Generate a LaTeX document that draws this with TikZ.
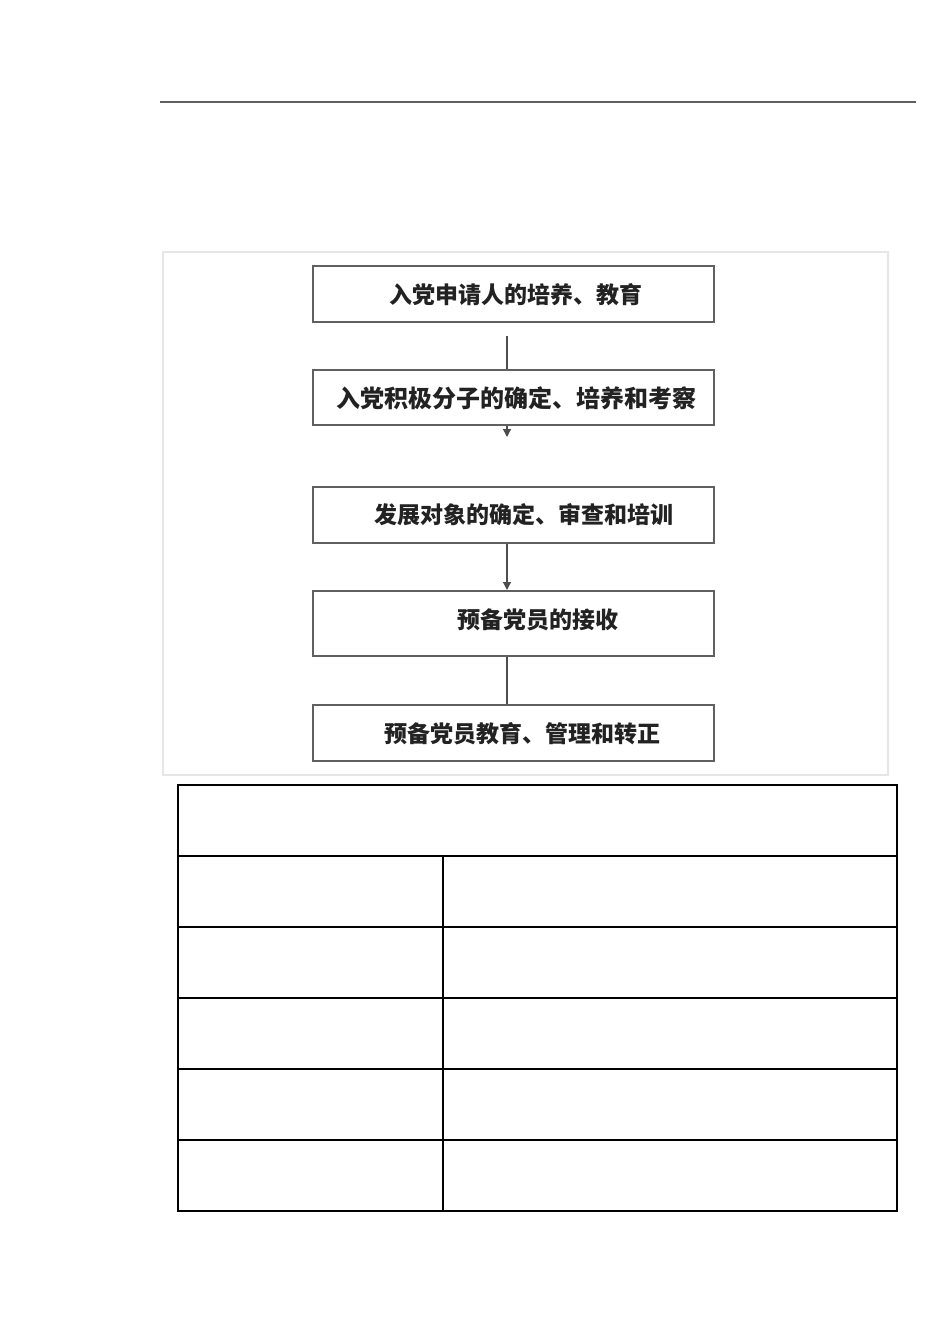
\documentclass[tikz,border=0pt]{standalone}
\usepackage{fontspec}
\newfontfamily\cjk{Noto Sans CJK SC}
\usetikzlibrary{arrows.meta}
\definecolor{boxline}{HTML}{606060}
\definecolor{frameline}{HTML}{E6E6E6}
\definecolor{txt}{HTML}{222222}
\begin{document}
\begin{tikzpicture}[x=0.5pt,y=-0.5pt,
  flowbox/.style={draw=boxline,line width=1pt,fill=white,inner sep=0pt,minimum width=200.5pt},
  flowtext/.style={inner sep=0pt,text=txt,font=\cjk\bfseries\fontsize{11.5pt}{13pt}\selectfont},
  conn/.style={draw=boxline!80!black,line width=0.6pt},
  arr/.style={conn,-{Triangle[length=4pt,width=4pt]}},
  tline/.style={draw=black,line width=1pt}]
\useasboundingbox (0,0) rectangle (950,1343);
\fill[white] (0,0) rectangle (950,1343);
% top rule
\coordinate (rl) at (160,102);
\coordinate (rr) at (916,102);
\draw[draw=boxline,line width=1pt] (rl) -- (rr);
% light frame of the pasted picture
\draw[frameline,line width=0.6pt] (163,252) rectangle (888,775);
% boxes
\node[flowbox,minimum height=28pt] (b1) at (513.5,294) {};
\node[flowbox,minimum height=27.5pt] (b2) at (513.5,397.5) {};
\node[flowbox,minimum height=28pt] (b3) at (513.5,515) {};
\node[flowbox,minimum height=32.5pt] (b4) at (513.5,623.5) {};
\node[flowbox,minimum height=28pt] (b5) at (513.5,733) {};
% texts
\node[flowtext] (t1) at (516,295) {入党申请人的培养、教育};
\node[flowtext,font=\cjk\bfseries\fontsize{12pt}{14pt}\selectfont] (t2) at (516,398) {入党积极分子的确定、培养和考察};
\node[flowtext] (t3) at (524,515) {发展对象的确定、审查和培训};
\node[flowtext] (t4) at (538,620) {预备党员的接收};
\node[flowtext] (t5) at (522,734) {预备党员教育、管理和转正};
% connectors
\coordinate (c1) at (507,336);
\coordinate (c2) at (507,437);
\coordinate (cx) at (507,0);
\draw[conn] (c1) -- (c1 |- b2.north);
\draw[arr] (b2.south -| cx) -- (c2);
\draw[arr] (b3.south -| cx) -- (b4.north -| cx);
\draw[conn] (b4.south -| cx) -- (b5.north -| cx);
% table
\draw[tline] (178,785) rectangle (897,1211);
\draw[draw=black,line width=1.4pt] (178,856) -- (897,856);
\foreach \yy in {927,998,1069,1140} \draw[tline] (178,\yy) -- (897,\yy);
\draw[draw=black,line width=1.2pt] (443,856) -- (443,1211);
\end{tikzpicture}
\end{document}
